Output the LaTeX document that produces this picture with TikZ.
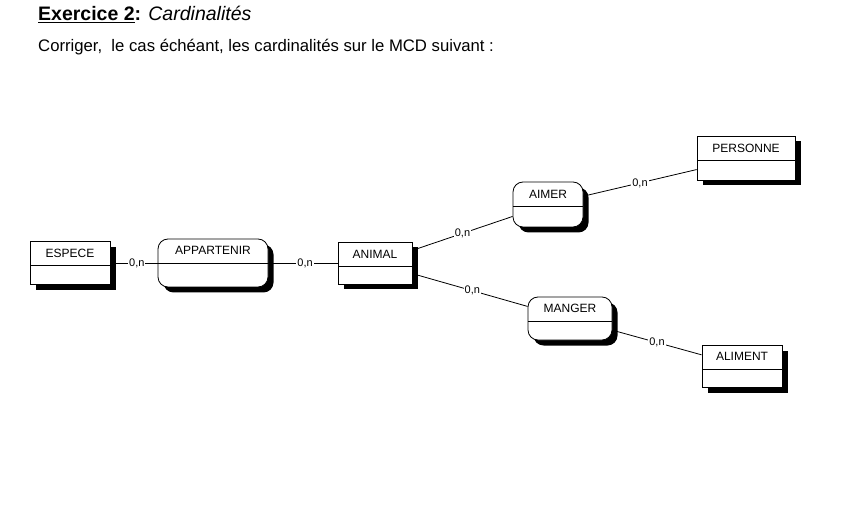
\documentclass[tikz,border=0pt]{standalone}
\usepackage{fontspec}
\setmainfont{Liberation Sans}
\usetikzlibrary{shadows}
\tikzset{
  x=1pt, y=-1pt,
  boxbase/.style={draw, fill=white, line width=0.8pt, inner sep=0pt,
    drop shadow={shadow xshift=5.5pt, shadow yshift=-5.5pt, fill=black, opacity=1},
    path picture={\draw[line width=0.8pt] ([yshift=-24pt]path picture bounding box.north west) -- ([yshift=-24pt]path picture bounding box.north east);}},
  ent/.style={boxbase, rectangle},
  assoc/.style={boxbase, rounded corners=10pt},
  etxt/.style={inner sep=0pt, font=\fontsize{12}{12}\selectfont},
  card/.style={fill=white, inner sep=1pt, font=\fontsize{11}{11}\selectfont},
  link/.style={line width=0.8pt}
}
\begin{document}
\begin{tikzpicture}
\useasboundingbox (0,0) rectangle (853,510);
% heading
\node[anchor=base west, inner sep=0pt, font=\fontsize{19.5}{19.5}\selectfont] (title) at (38,20.5)
  {\textbf{\underline{Exercice 2}:} \textit{Cardinalités}};
\node[anchor=base west, inner sep=0pt, font=\fontsize{16.7}{16.7}\selectfont] (intro) at (38,52)
  {Corriger,\ \ le cas échéant, les cardinalités sur le MCD suivant :};
% entities and associations
\node[ent, minimum width=80pt, minimum height=43pt] (espece) at (70,263) {};
\node[assoc, minimum width=110pt, minimum height=48pt] (appartenir) at (213,263) {};
\node[ent, minimum width=74pt, minimum height=42pt] (animal) at (375,263) {};
\node[assoc, minimum width=70pt, minimum height=45pt] (aimer) at (548,204.5) {};
\node[ent, minimum width=98pt, minimum height=44pt] (personne) at (746,158) {};
\node[assoc, minimum width=84pt, minimum height=43pt] (manger) at (570,318.5) {};
\node[ent, minimum width=80pt, minimum height=42pt] (aliment) at (742,366) {};
% titles
\node[etxt] (espece-t) at ([yshift=-12.5pt]espece.north) {ESPECE};
\node[etxt] (appartenir-t) at ([yshift=-12pt]appartenir.north) {APPARTENIR};
\node[etxt] (animal-t) at ([yshift=-12.5pt]animal.north) {ANIMAL};
\node[etxt] (aimer-t) at ([yshift=-12.5pt]aimer.north) {AIMER};
\node[etxt] (personne-t) at ([yshift=-12.5pt]personne.north) {PERSONNE};
\node[etxt] (manger-t) at ([yshift=-11.5pt]manger.north) {MANGER};
\node[etxt] (aliment-t) at ([yshift=-12pt]aliment.north) {ALIMENT};
% links
\draw[link] (espece) -- node[card, pos=0.56] (c1) {0,n} (appartenir);
\draw[link] (appartenir) -- node[card, pos=0.53] (c2) {0,n} (animal);
\draw[link] (animal) -- node[card, pos=0.5] (c3) {0,n} (aimer);
\draw[link] (aimer) -- node[card, pos=0.5] (c4) {0,n} (personne);
\draw[link] (animal) -- node[card, pos=0.52] (c5) {0,n} (manger);
\draw[link] (manger) -- node[card, pos=0.5] (c6) {0,n} (aliment);
\end{tikzpicture}
\end{document}
